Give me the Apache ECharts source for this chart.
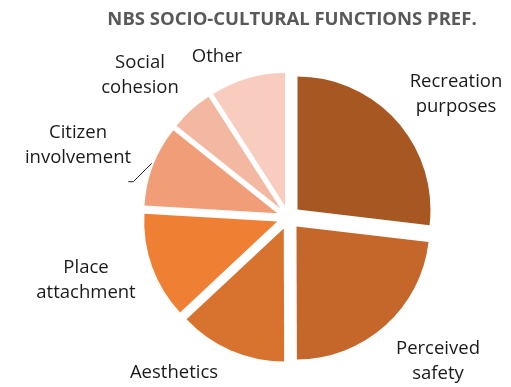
<!DOCTYPE html>
<html>
<head>
<meta charset="utf-8">
<script src="https://cdn.jsdelivr.net/npm/echarts@6/dist/echarts.min.js"></script>
<style>html,body{margin:0;padding:0;background:#fff;}#c{width:511px;height:387px;}</style>
</head>
<body>
<div id="c"></div>
<script>
const titleText = 'NBS SOCIO-CULTURAL FUNCTIONS PREF.';
const categories = ['Recreation\npurposes', 'Perceived\nsafety', 'Aesthetics', 'Place\nattachment', 'Citizen\ninvolvement', 'Social\ncohesion', 'Other'];
const values = [26.9, 23.1, 13.1, 12.9, 9.8, 5.2, 9.1];
const colors = ['#A65722', '#C5662A', '#D8722F', '#EE7F33', '#F09D78', '#F3B8A1', '#F8CCBF'];
const labelPos = [[456, 94], [438, 361], [174, 373], [86, 280], [78, 145], [140, 75], [217, 57]];
const leaderLine = [[151.7, 163.3], [133.3, 181.7], [128.3, 181.7]];

const labelFont = '18.5px "Open Sans"';
const graphics = categories.map((c, i) => ({
  type: 'text', silent: true, z: 10,
  style: {
    text: c, x: labelPos[i][0], y: labelPos[i][1],
    textAlign: 'center', textVerticalAlign: 'middle',
    font: labelFont, lineHeight: 25, fill: '#1a1a1a'
  }
}));
graphics.push({
  type: 'polyline', silent: true, z: 10,
  shape: {points: leaderLine},
  style: {stroke: '#222', lineWidth: 1, fill: null}
});

const chart = echarts.init(document.getElementById('c'), null, {renderer: 'canvas'});
chart.setOption({
  animation: false,
  title: {
    text: titleText, left: 287, top: 5, textAlign: 'center',
    textStyle: {fontFamily: 'Open Sans', fontWeight: 'bold', fontSize: 18.5, color: '#595959'}
  },
  graphic: graphics,
  series: [{
    type: 'pie',
    center: [288.5, 217.5],
    radius: [0, 133],
    startAngle: 90,
    clockwise: true,
    selectedMode: 'multiple',
    selectedOffset: 12,
    emphasis: {disabled: true},
    label: {show: false},
    labelLine: {show: false},
    data: categories.map((c, i) => ({
      name: c, value: values[i], selected: true,
      itemStyle: {color: colors[i]}
    }))
  }]
});
</script>
</body>
</html>
